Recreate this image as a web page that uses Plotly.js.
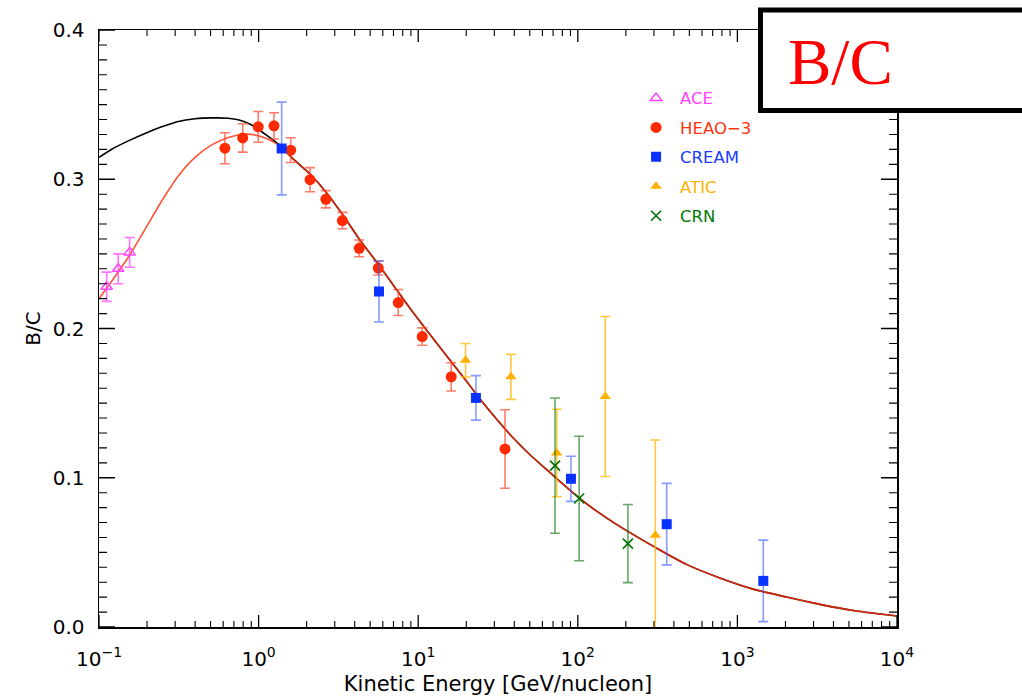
<!DOCTYPE html>
<html>
<head>
<meta charset="utf-8">
<script src="https://cdn.plot.ly/plotly-3.0.1.min.js"></script>
<style>html,body{margin:0;padding:0;background:#fff;}#chart{width:1022px;height:696px;}</style>
</head>
<body>
<div id="chart"></div>
<script>
// ---- model curves ----
const blackE = [0.100, 0.1201, 0.1527, 0.1942, 0.2471, 0.3140, 0.3994, 0.5082, 0.6458, 0.7460, 0.9053, 1.097, 1.329, 1.691, 2.10, 2.64, 3.35, 4.27, 5.62, 9.318, 11.86, 15.09, 19.17, 24.39, 31.04, 39.43, 50.18, 63.86, 81.13, 103.2, 131.3, 166.9, 212.4, 298.1, 483.3, 783.9, 1271, 2063, 3341, 5456, 10000];
const blackBC = [0.3146, 0.3201, 0.3257, 0.3307, 0.3351, 0.3387, 0.3405, 0.3411, 0.3409, 0.3398, 0.3364, 0.3302, 0.3235, 0.3125, 0.3035, 0.2915, 0.2765, 0.2600, 0.2430, 0.2105, 0.1960, 0.1815, 0.1675, 0.1528, 0.1392, 0.1266, 0.1154, 0.1054, 0.0955, 0.0860, 0.0776, 0.0701, 0.0632, 0.0540, 0.0418, 0.0327, 0.0252, 0.0199, 0.0150, 0.0109, 0.0074];
const redE = [0.100, 0.1201, 0.1527, 0.1942, 0.2471, 0.3140, 0.3994, 0.5082, 0.6458, 0.822, 0.949, 1.150, 1.395, 1.691, 2.10, 2.64, 3.35, 4.27, 5.62, 9.318, 11.86, 15.09, 19.17, 24.39, 31.04, 39.43, 50.18, 63.86, 81.13, 103.2, 131.3, 166.9, 212.4, 298.1, 483.3, 783.9, 1271, 2063, 3341, 5456, 10000];
const redBC = [0.2201, 0.2317, 0.2479, 0.2664, 0.2854, 0.3022, 0.3146, 0.3230, 0.3280, 0.3302, 0.3297, 0.3268, 0.3213, 0.3125, 0.3035, 0.2915, 0.2765, 0.2600, 0.2430, 0.2105, 0.1960, 0.1815, 0.1675, 0.1528, 0.1392, 0.1266, 0.1154, 0.1054, 0.0955, 0.0860, 0.0776, 0.0701, 0.0632, 0.0540, 0.0418, 0.0327, 0.0252, 0.0199, 0.0150, 0.0109, 0.0074];

// ---- data sets ----
const aceE = [0.1117, 0.132, 0.1556];
const aceBC = [0.228, 0.240, 0.251];
const aceErr = [0.0098, 0.010, 0.010];

const heaoE = [0.615, 0.795, 0.995, 1.249, 1.589, 2.10, 2.64, 3.35, 4.27, 5.62, 7.50, 10.6, 16.1, 35.0];
const heaoBC = [0.3208, 0.3277, 0.3351, 0.3358, 0.3195, 0.2997, 0.2866, 0.2723, 0.2537, 0.2405, 0.2174, 0.1946, 0.1676, 0.1193];
const heaoErr = [0.0104, 0.0095, 0.0103, 0.0088, 0.0083, 0.0081, 0.0058, 0.0055, 0.0056, 0.0047, 0.0087, 0.0058, 0.0095, 0.0263];

const creamE = [1.395, 5.68, 23.0, 90.6, 360.7, 1453];
const creamBC = [0.3206, 0.2248, 0.1535, 0.0993, 0.0689, 0.0309];
const creamErr = [0.0311, 0.0204, 0.0149, 0.0151, 0.0273, 0.0273];

const aticE = [19.8, 38.1, 73.8, 148.7, 306];
const aticBC = [0.1787, 0.1676, 0.1166, 0.1544, 0.0615];
const aticErr = [0.0112, 0.0151, 0.0293, 0.0536, 0.0638];

const crnE = [72.0, 102, 206];
const crnBC = [0.1081, 0.0861, 0.0559];
const crnErr = [0.0453, 0.0417, 0.0262];

const xTickVals = [0.1, 1, 10, 100, 1000, 10000];
const xTickText = ['10<sup>−1</sup>', '10<sup>0</sup>', '10<sup>1</sup>', '10<sup>2</sup>', '10<sup>3</sup>', '10<sup>4</sup>'];
const yTickVals = [0.0, 0.1, 0.2, 0.3, 0.4];
const yTickText = ['0.0', '0.1', '0.2', '0.3', '0.4'];

const FONT = 'DejaVu Sans, Arial, sans-serif';

// ---- tick marks (layout only): drawn as paper-referenced paths ----
const PW = 798, PH = 597;           // plot area size in px
const X_MIN = -1, X_MAX = 4, Y_MAX = 0.4;
const xMinor = [];
for (let d = -1; d < 4; d++) for (let m = 2; m <= 9; m++) xMinor.push(m * Math.pow(10, d));
const yMinor = [];
for (let i = 1; i < 40; i++) if (i % 10 !== 0) yMinor.push(i / 100);

function xp(v) { return (Math.log10(v) - X_MIN) / (X_MAX - X_MIN); }
function yp(v) { return v / Y_MAX; }
function xTickPath(vals, len) {
  const h = len / PH; let p = '';
  vals.forEach(v => { const x = xp(v).toFixed(5);
    p += `M${x},0 L${x},${h.toFixed(5)} M${x},1 L${x},${(1 - h).toFixed(5)} `; });
  return p;
}
function yTickPath(vals, len) {
  const w = len / PW; let p = '';
  vals.forEach(v => { const y = yp(v).toFixed(5);
    p += `M0,${y} L${w.toFixed(5)},${y} M1,${y} L${(1 - w).toFixed(5)},${y} `; });
  return p;
}
function tickShape(path, width) {
  return {type: 'path', xref: 'paper', yref: 'paper', layer: 'above', path: path,
          line: {color: '#000', width: width}};
}

function errBar(arr, color) {
  return {type: 'data', array: arr, visible: true, color: color, thickness: 1.6, width: 5};
}

const traces = [
  {x: blackE, y: blackBC, mode: 'lines', line: {color: '#000000', width: 1.6, shape: 'spline', smoothing: 0.7}, showlegend: false, hoverinfo: 'skip'},
  {x: redE, y: redBC, mode: 'lines', line: {color: 'rgba(255,45,10,0.82)', width: 1.6, shape: 'spline', smoothing: 0.7}, showlegend: false, hoverinfo: 'skip'},
  {x: aceE, y: aceBC, mode: 'markers', name: '<span style="color:#ff44ff">ACE</span>', legendgroup: 'a',
   marker: {symbol: 'triangle-up-open', size: 10, color: '#ff44ff', line: {width: 1.5, color: '#ff44ff'}},
   error_y: errBar(aceErr, 'rgba(255,70,255,0.75)')},
  {x: heaoE, y: heaoBC, mode: 'markers', name: '<span style="color:#ff3310">HEAO−3</span>', legendgroup: 'b',
   marker: {symbol: 'circle', size: 11, color: '#ff2a00'},
   error_y: errBar(heaoErr, 'rgba(255,70,40,0.7)')},
  {x: creamE, y: creamBC, mode: 'markers', name: '<span style="color:#1a3cff">CREAM</span>', legendgroup: 'c',
   marker: {symbol: 'square', size: 10, color: '#0a32ff'},
   error_y: errBar(creamErr, 'rgba(50,90,255,0.6)')},
  {x: aticE, y: aticBC, mode: 'markers', name: '<span style="color:#ffb000">ATIC</span>', legendgroup: 'd',
   marker: {symbol: 'triangle-up', size: 10, color: '#ffb000'},
   error_y: errBar(aticErr, 'rgba(255,180,0,0.75)')},
  {x: crnE, y: crnBC, mode: 'markers', name: '<span style="color:#007a00">CRN</span>', legendgroup: 'e',
   marker: {symbol: 'x-thin-open', size: 10, color: '#007000', line: {width: 1.6, color: '#007000'}},
   error_y: errBar(crnErr, 'rgba(0,110,0,0.6)')}
];

const layout = {
  width: 1022, height: 696,
  margin: {l: 99, r: 125, t: 30, b: 69},
  paper_bgcolor: '#ffffff', plot_bgcolor: '#ffffff',
  font: {family: FONT, size: 20, color: '#000'},
  showlegend: true,
  legend: {x: 0.668, y: 0.915, xanchor: 'left', yanchor: 'top', bgcolor: 'rgba(0,0,0,0)',
           font: {family: FONT, size: 16.5}, traceorder: 'grouped', tracegroupgap: 5, itemwidth: 38},
  xaxis: {
    type: 'log', range: [X_MIN, X_MAX], tickmode: 'array', tickvals: xTickVals, ticktext: xTickText,
    ticks: '', showline: true, linecolor: '#000', linewidth: 1.5, mirror: true,
    showgrid: false, zeroline: false, ticklabelstandoff: 13,
    tickfont: {family: FONT, size: 20},
    title: {text: 'Kinetic Energy [GeV/nucleon]', font: {family: FONT, size: 21}, standoff: 8}
  },
  yaxis: {
    range: [0, Y_MAX], tickmode: 'array', tickvals: yTickVals, ticktext: yTickText,
    ticks: '', showline: true, linecolor: '#000', linewidth: 1.5, mirror: true,
    showgrid: false, zeroline: false, ticklabelstandoff: 9,
    tickfont: {family: FONT, size: 20},
    title: {text: 'B/C', font: {family: FONT, size: 20}, standoff: 6}
  },
  shapes: [
    tickShape(xTickPath(xTickVals, 12), 1.3),
    tickShape(xTickPath(xMinor, 6), 1.1),
    tickShape(yTickPath(yTickVals, 16), 1.3),
    tickShape(yTickPath(yMinor, 8), 1.1),
    {type: 'rect', xref: 'paper', yref: 'paper', layer: 'above',
     x0: (760.5 - 99) / 798, x1: (1040 - 99) / 798,
     y0: (627 - 110.5) / 597, y1: (627 - 10) / 597,
     line: {color: '#000', width: 5}, fillcolor: '#ffffff'}
  ],
  annotations: [
    {xref: 'paper', yref: 'paper', x: (786 - 99) / 798, y: (627 - 62) / 597, xanchor: 'left', yanchor: 'middle',
     text: 'B/C', showarrow: false, font: {family: 'Liberation Serif, Times New Roman, serif', size: 65, color: '#ff0000'}}
  ]
};

Plotly.newPlot('chart', traces, layout, {displayModeBar: false, staticPlot: true});
</script>
</body>
</html>
